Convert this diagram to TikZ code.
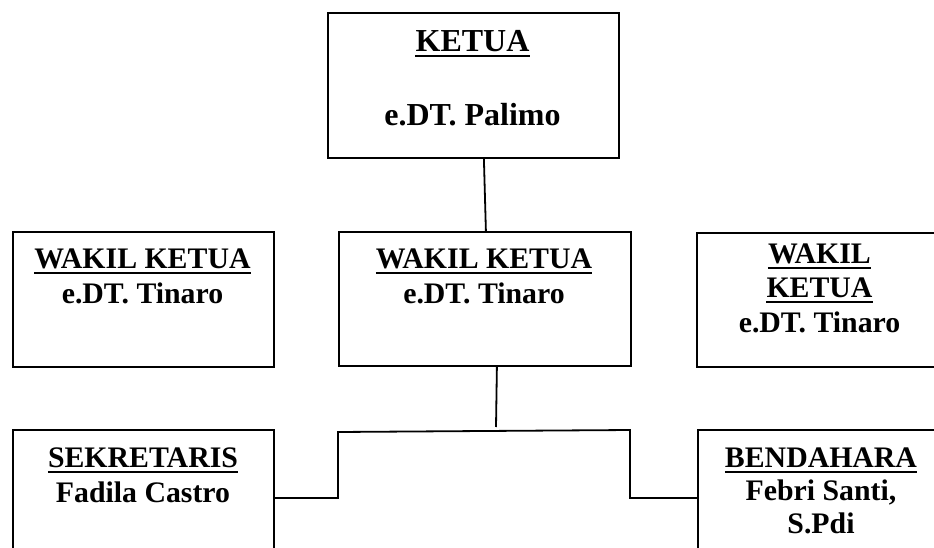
\documentclass[tikz,border=0pt]{standalone}
\usepackage{fontspec}
\setmainfont{Liberation Serif}
\begin{document}
\begin{tikzpicture}[x=1pt,y=-1pt,
  box/.style={draw=black,line width=1.8pt,rectangle,inner sep=0pt,anchor=north west},
  txt/.style={inner sep=0pt,anchor=base,font=\fontsize{29.8}{35}\selectfont\bfseries},
  bigtxt/.style={inner sep=0pt,anchor=base,font=\fontsize{32}{38}\selectfont\bfseries},
  conn/.style={draw=black,line width=1.8pt},
  ul/.style={draw=black,line width=2pt}]
\useasboundingbox (0,0) rectangle (934,548);
\clip (0,0) rectangle (934,548);
\fill[white] (0,0) rectangle (934,548);
% boxes
\node[box,minimum width=291pt,minimum height=145pt] (ketua) at (327,12) {};
\node[box,minimum width=261pt,minimum height=135pt] (wl) at (12,231) {};
\node[box,minimum width=292pt,minimum height=134pt] (wm) at (338,231) {};
\node[box,minimum width=248pt,minimum height=134pt] (wr) at (696,232) {};
\node[box,minimum width=261pt,minimum height=136pt] (sek) at (12,429) {};
\node[box,minimum width=248pt,minimum height=136pt] (ben) at (697,429) {};
% texts
\node[bigtxt] (t1) at (472.5,52) {KETUA};
\node[bigtxt] (t2) at (472.5,126) {e.DT. Palimo};
\node[txt] (t3) at (142.5,268) {WAKIL KETUA};
\node[txt] (t4) at (142.5,303) {e.DT. Tinaro};
\node[txt] (t5) at (484,268) {WAKIL KETUA};
\node[txt] (t6) at (484,303) {e.DT. Tinaro};
\node[txt] (t7) at (819.5,263) {WAKIL};
\node[txt] (t8) at (819.5,297) {KETUA};
\node[txt] (t9) at (819.5,332) {e.DT. Tinaro};
\node[txt] (t10) at (143,467) {SEKRETARIS};
\node[txt] (t11) at (143,502) {Fadila Castro};
\node[txt] (t12) at (821,467) {BENDAHARA};
\node[txt] (t13) at (821,500) {Febri Santi,};
\node[txt] (t14) at (821,533) {S.Pdi};
% underlines
\foreach \n in {t1,t3,t5,t7,t8,t10,t12}
  \draw[ul] ([yshift=-4.5pt]\n.base west) -- ([yshift=-4.5pt]\n.base east);
% connectors
\draw[conn] ([xshift=10.5pt]ketua.south) -- ([xshift=1pt]wm.north);
\coordinate (j) at (496,427);
\draw[conn] ([xshift=12pt]wm.south) -- (j);
\coordinate (bl) at (338,432);
\coordinate (br) at (630,430);
\draw[conn] (sek.east) -| (bl) -- (br) |- (ben.west);
\end{tikzpicture}
\end{document}
